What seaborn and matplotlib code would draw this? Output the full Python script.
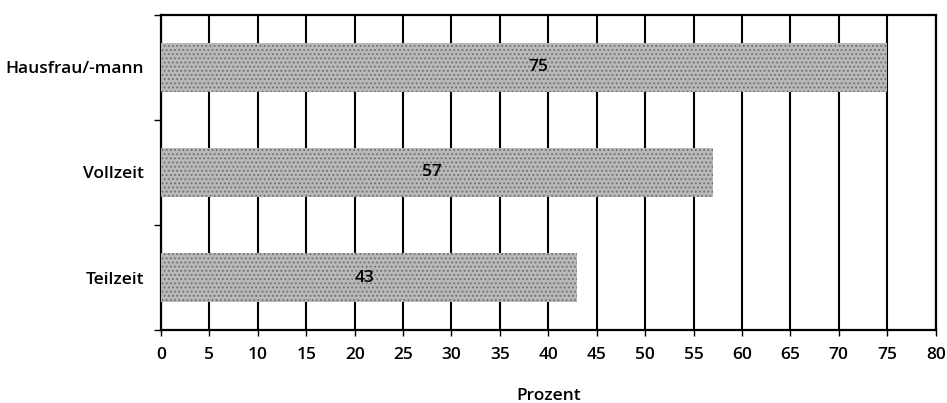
import matplotlib
matplotlib.use("Agg")
from matplotlib import pyplot as plt
from matplotlib.ticker import FixedLocator, MultipleLocator
import pandas as pd
import seaborn as sns

categories = ["Hausfrau/-mann", "Vollzeit", "Teilzeit"]
values = [75, 57, 43]
label_x = [39, 28, 21]  # where the printed numbers sit in the original

df = pd.DataFrame({"Kategorie": categories, "Prozent": values})

sns.set_style("white")
plt.rcParams["font.family"] = ["Open Sans", "DejaVu Sans"]
plt.rcParams["text.color"] = "black"
plt.rcParams["xtick.color"] = "black"
plt.rcParams["ytick.color"] = "black"
plt.rcParams["axes.labelcolor"] = "black"
plt.rcParams["hatch.color"] = "#6e6e6e"
plt.rcParams["hatch.linewidth"] = 0.8

fs = 12.5

fig, ax = plt.subplots(figsize=(9.47, 4.03), dpi=100)
fig.subplots_adjust(left=0.170, right=0.988, bottom=0.181, top=0.963)

sns.barplot(data=df, y="Kategorie", x="Prozent", orient="h", ax=ax,
            color="#b8b8b8", width=0.47, linewidth=0,
            hatch="....", zorder=3)
for p in ax.patches:
    p.set_edgecolor("#6e6e6e")
    p.set_linewidth(0)

for i, (v, lx) in enumerate(zip(values, label_x)):
    ax.text(lx, i, str(v), ha="center", va="center", fontsize=fs,
            fontweight="semibold", zorder=4)

ax.set_xlim(0, 80)
ax.set_ylim(2.5, -0.5)
ax.xaxis.set_major_locator(MultipleLocator(5))
ax.grid(axis="x", color="black", linewidth=1.5, zorder=1)
ax.set_axisbelow(True)

ax.yaxis.set_minor_locator(FixedLocator([-0.5, 0.5, 1.5, 2.5]))
ax.tick_params(axis="y", which="major", length=0, pad=12, labelsize=fs)
ax.tick_params(axis="y", which="minor", length=5, width=1, color="black", direction="out", left=True)
ax.tick_params(axis="x", which="major", length=4, width=1, color="black", direction="out",
               bottom=True, labelsize=fs, pad=8)
for lab in ax.get_xticklabels() + ax.get_yticklabels():
    lab.set_fontweight("semibold")

for s in ax.spines.values():
    s.set_color("black")
    s.set_linewidth(1.6)

ax.set_xlabel("Prozent", fontsize=fs, fontweight="semibold", labelpad=18)
ax.set_ylabel("")

fig.savefig("out.png", dpi=100)
